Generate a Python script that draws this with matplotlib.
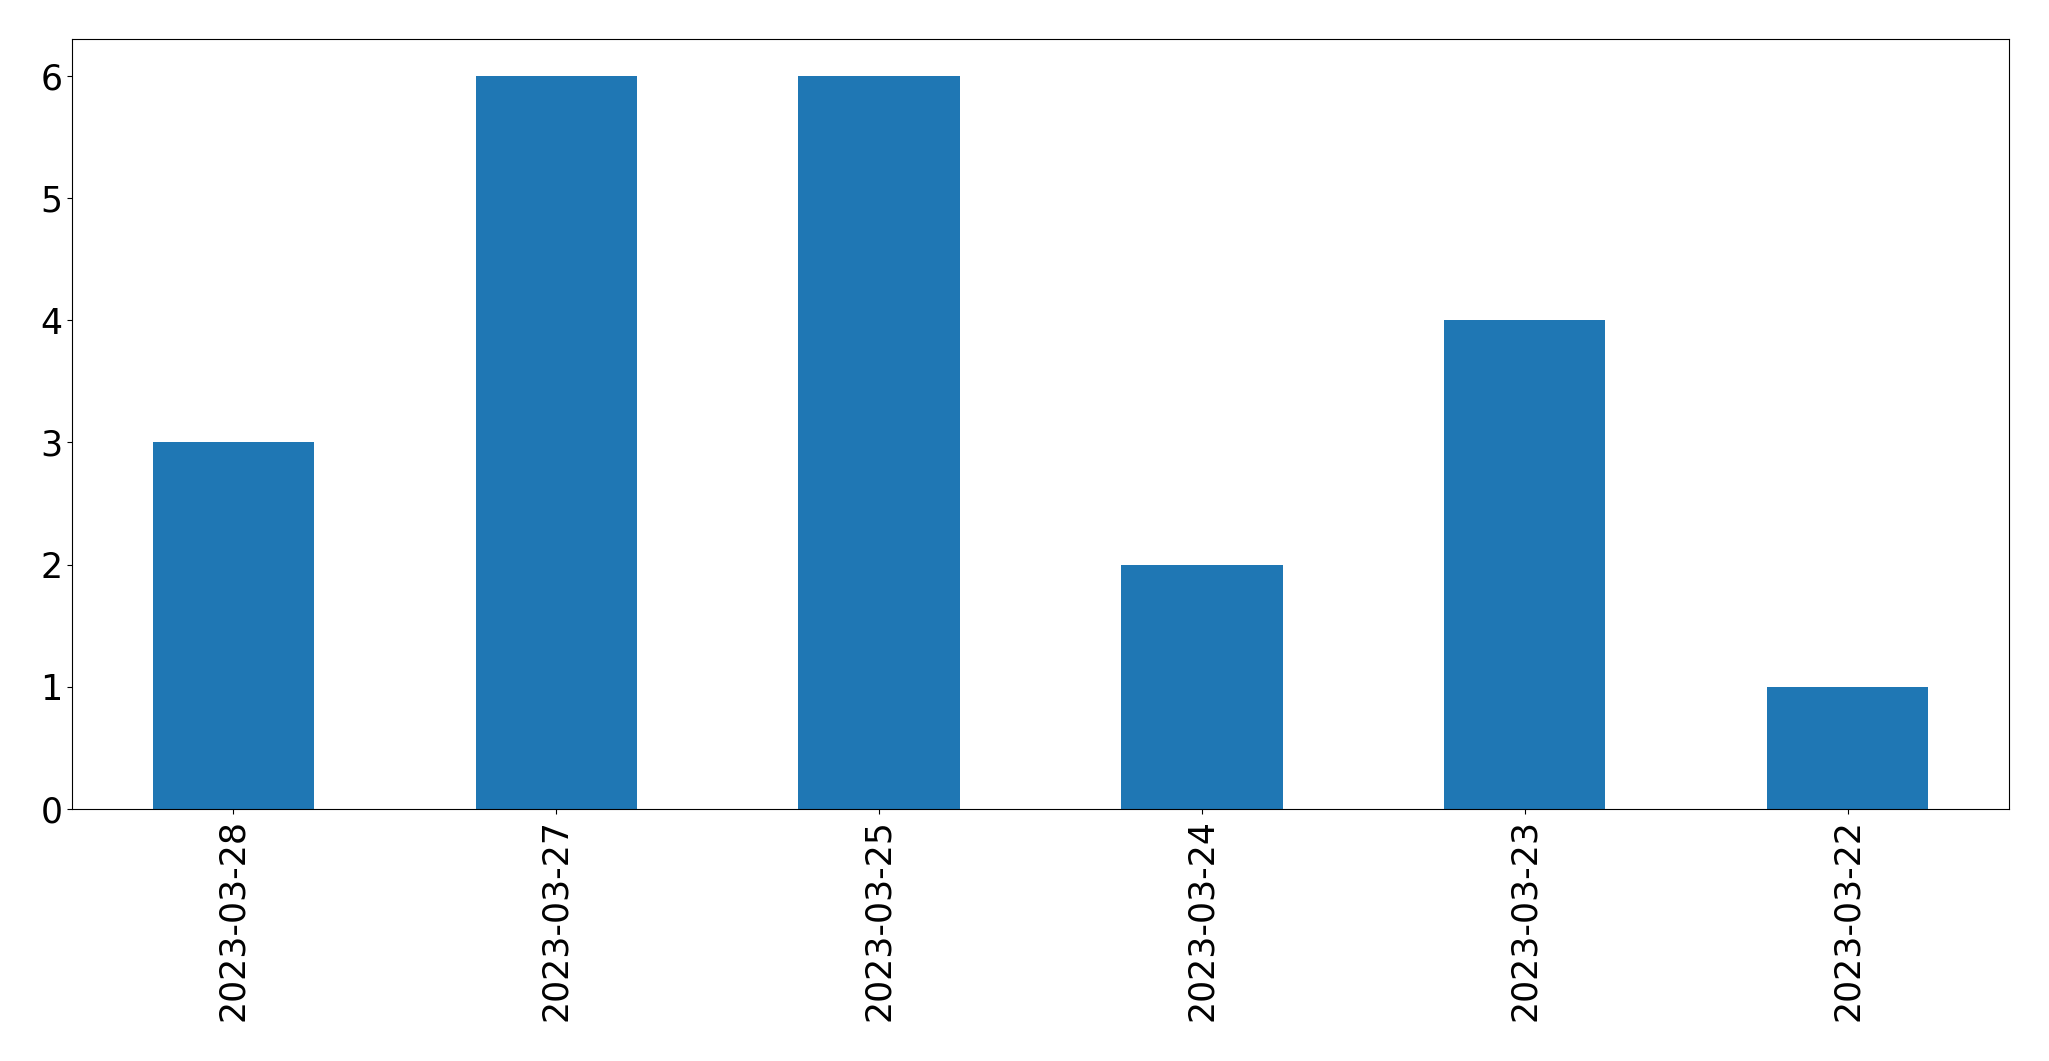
import matplotlib
matplotlib.use("Agg")
import matplotlib.pyplot as plt

dates = ["2023-03-28", "2023-03-27", "2023-03-25", "2023-03-24", "2023-03-23", "2023-03-22"]
counts = [3, 6, 6, 2, 4, 1]

fig = plt.figure(figsize=(20.49, 10.61), dpi=100)
ax = fig.add_axes([72/2049, 1 - 809/1061, (2009-72)/2049, (809-39)/1061])
x = range(len(dates))
ax.bar(x, counts, width=0.5, color="#1f77b4")
ax.set_xlim(-0.5, len(dates) - 0.5)
ax.set_ylim(0, max(counts) * 1.05)
ax.set_xticks(list(x))
ax.set_xticklabels(dates, rotation=90, fontsize=25)
ax.tick_params(axis="y", labelsize=25)
fig.savefig("out.png", dpi=100)
